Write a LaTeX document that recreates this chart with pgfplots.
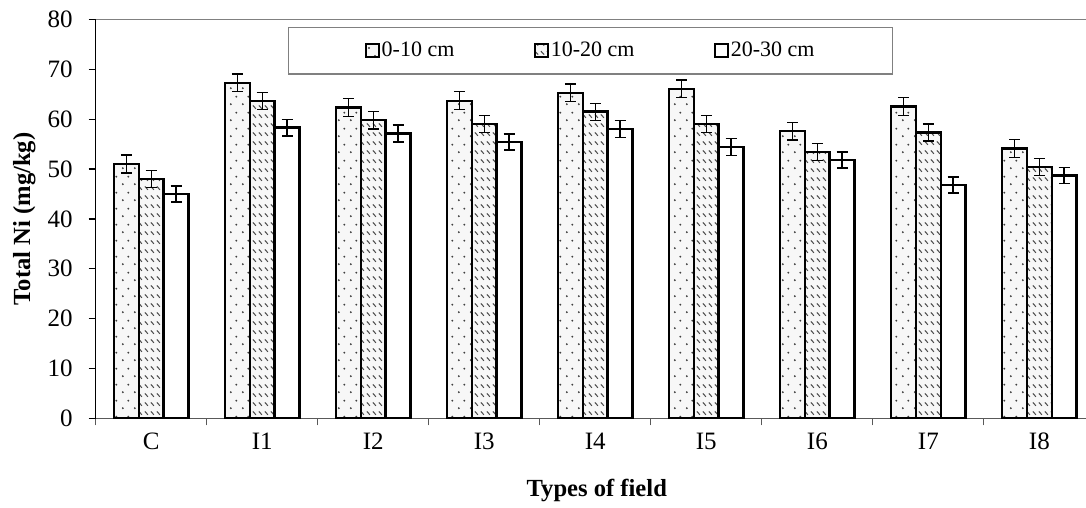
\documentclass[border=0pt]{standalone}
\usepackage{fontspec}
\setmainfont{Liberation Serif}
\usepackage{pgfplots}
\pgfplotsset{compat=1.18}
\usepackage{pgfplotstable}
\usetikzlibrary{patterns.meta}

\tikzdeclarepattern{name=sparsedots, type=uncolored,
  bounding box={(0,0) and (6pt,8pt)}, tile size={(6pt,8pt)},
  code={\fill (1.5pt,2pt) circle (0.55pt); \fill (4.5pt,6pt) circle (0.55pt);}}
\tikzdeclarepattern{name=dashdiag, type=uncolored,
  bounding box={(0,0) and (3pt,4.5pt)}, tile size={(3pt,4.5pt)},
  code={\draw[line width=0.6pt] (0.5pt,3.6pt) -- (2.3pt,1.8pt);}}

\pgfplotstableread{
x a ea b eb c ec
0 51.0 1.8 48.0 1.7 45.0 1.6
1 67.3 1.8 63.7 1.7 58.3 1.7
2 62.3 1.8 59.8 1.8 57.1 1.7
3 63.7 1.8 59.0 1.7 55.4 1.6
4 65.3 1.8 61.5 1.7 58.0 1.7
5 66.1 1.8 59.0 1.7 54.4 1.7
6 57.6 1.8 53.4 1.7 51.8 1.6
7 62.6 1.8 57.3 1.7 46.8 1.6
8 54.1 1.8 50.4 1.7 48.7 1.6
}\datatable

\begin{document}
\begin{tikzpicture}
\begin{axis}[
  at={(0,0)}, anchor=south west,
  scale only axis, width=495.15pt, height=199.4pt,
  xmin=-0.5, xmax=8.42, ymin=0, ymax=80,
  axis x line*=bottom, axis y line*=left,
  x axis line style={-, gray!70!black, line width=0.6pt},
  y axis line style={-, black, line width=0.7pt},
  ybar=0pt, bar width=12.4pt,
  xtick={-0.5,0.5,...,7.5}, xticklabels={},
  x tick style={gray!70!black, line width=0.6pt},
  major tick length=3.5pt, tick align=outside,
  extra x ticks={0,1,...,8},
  extra x tick labels={C,I1,I2,I3,I4,I5,I6,I7,I8},
  extra x tick style={major tick length=0pt, tick label style={yshift=-4pt}},
  ytick={0,10,...,80},
  y tick style={black, line width=0.6pt},
  yticklabel style={xshift=-4.5pt},
  /pgf/number format/assume math mode=true,
  tick label style={font=\fontsize{12.5}{14}\selectfont},
  xlabel={Types of field},
  ylabel={Total Ni (mg/kg)},
  label style={font=\fontsize{12.3}{14}\selectfont\bfseries},
  xlabel style={at={(axis description cs:0.506,0)}, anchor=center, yshift=-36pt},
  ylabel style={at={(axis description cs:-0.072,0.5)}, anchor=center},
  legend columns=3,
  legend image code/.code={\draw[#1, line width=1.1pt] (0pt,-3.25pt) rectangle (6.5pt,3.25pt);},
  legend style={at={(0.4997,0.922)}, anchor=center, draw=gray, line width=0.6pt,
    inner xsep=38pt, inner ysep=6.5pt,
    font=\fontsize{11}{13}\selectfont,
    nodes={inner sep=0.8pt, line width=0.6pt},
    /tikz/every even column/.append style={column sep=39pt}},
  error bars/error bar style={black, line width=0.7pt},
  error bars/error mark options={rotate=90, mark size=2.75pt, line width=0.7pt, black},
]
\addplot[draw=black, line width=1.25pt, fill=gray!6, postaction={pattern=sparsedots, pattern color=black!75},
  error bars/.cd, y dir=both, y explicit]
  table[x=x, y=a, y error=ea] {\datatable};
\addplot[draw=black, line width=1.25pt, fill=gray!6, postaction={pattern=dashdiag, pattern color=black!70},
  error bars/.cd, y dir=both, y explicit]
  table[x=x, y=b, y error=eb] {\datatable};
\addplot[draw=black, line width=1.25pt, fill=white,
  error bars/.cd, y dir=both, y explicit]
  table[x=x, y=c, y error=ec] {\datatable};
\legend{0-10 cm, 10-20 cm, 20-30 cm}
\draw[gray, line width=0.8pt] (rel axis cs:0,1) -- (rel axis cs:1,1);
\end{axis}
\pgfresetboundingbox
\path (-47.85pt,-44.85pt) rectangle (495.15pt,209.15pt);
\end{tikzpicture}
\end{document}
